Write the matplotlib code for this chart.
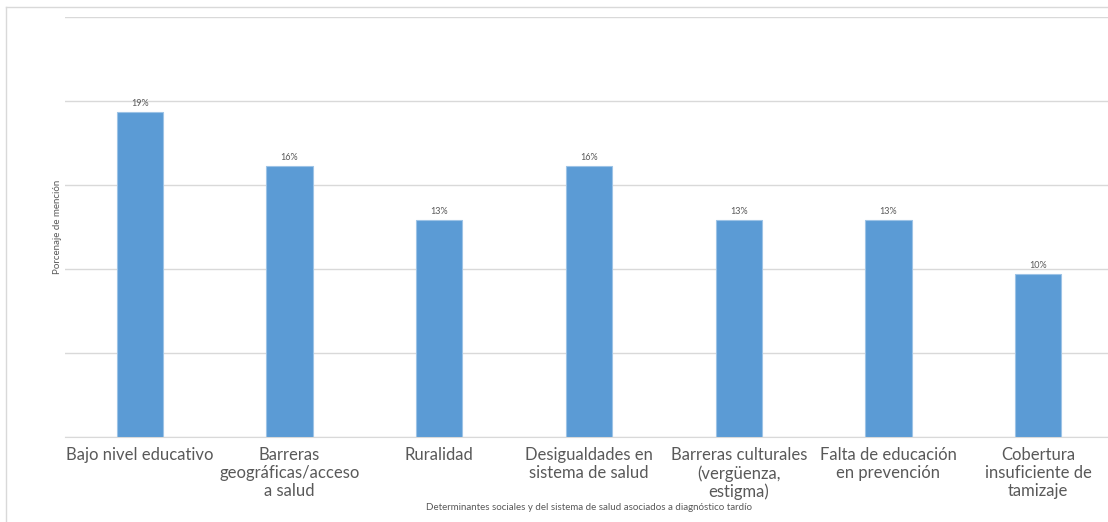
import numpy as np
import matplotlib
matplotlib.use('Agg')
from matplotlib import pyplot as plt
from matplotlib.lines import Line2D

# Datos del grafico
categorias = ['Bajo nivel educativo',
              'Barreras\ngeográficas/acceso\na salud',
              'Ruralidad',
              'Desigualdades en\nsistema de salud',
              'Barreras culturales\n(vergüenza,\nestigma)',
              'Falta de educación\nen prevención',
              'Cobertura\ninsuficiente de\ntamizaje']
porcentajes = [19.35, 16.13, 12.90, 16.13, 12.90, 12.90, 9.68]
etiquetas = ['19%', '16%', '13%', '16%', '13%', '13%', '10%']

plt.rcParams['font.family'] = ['Lato', 'DejaVu Sans']

fig = plt.figure(figsize=(11.08, 5.22), dpi=100)
ax = fig.add_axes([65/1108, 1 - 437/522, 1048/1108, 420/522])

x = np.arange(len(categorias))
barras = ax.bar(x, porcentajes, width=0.31, color='#5b9bd5',
                edgecolor='#9dc3e6', linewidth=0.8, zorder=3)

for xi, v, t in zip(x, porcentajes, etiquetas):
    ax.text(xi, v + 0.25, t, ha='center', va='bottom', fontsize=6.5, color='#595959')

ax.set_xlim(-0.5, len(categorias) - 0.5)
ax.set_ylim(0, 25)
ax.set_yticks([0, 5, 10, 15, 20, 25])
ax.set_yticklabels([])
ax.tick_params(axis='y', length=0)
ax.tick_params(axis='x', length=0, pad=7)
ax.set_xticks(x)
ax.set_xticklabels(categorias, fontsize=12, color='#595959', linespacing=1.17, va='top')
ax.grid(axis='y', color='#d9d9d9', linewidth=1, zorder=0)
for s in ['top', 'right', 'left']:
    ax.spines[s].set_visible(False)
ax.spines['bottom'].set_color('#d9d9d9')

ax.set_ylabel('Porcenaje de mención', fontsize=7, color='#595959')
ax.yaxis.set_label_coords(-3/1048, 0.5)
fig.text(589/1108, 1 - 507/522,
         'Determinantes sociales y del sistema de salud asociados a diagnóstico tardío',
         ha='center', va='center', fontsize=7, color='#595959')

# Borde del area del grafico
fig.add_artist(Line2D([6/1108, 6/1108], [0, 1 - 7/522], transform=fig.transFigure,
                      color='#d9d9d9', linewidth=1))
fig.add_artist(Line2D([6/1108, 1], [1 - 7/522, 1 - 7/522], transform=fig.transFigure,
                      color='#d9d9d9', linewidth=1))

fig.savefig('out.png', dpi=100)
